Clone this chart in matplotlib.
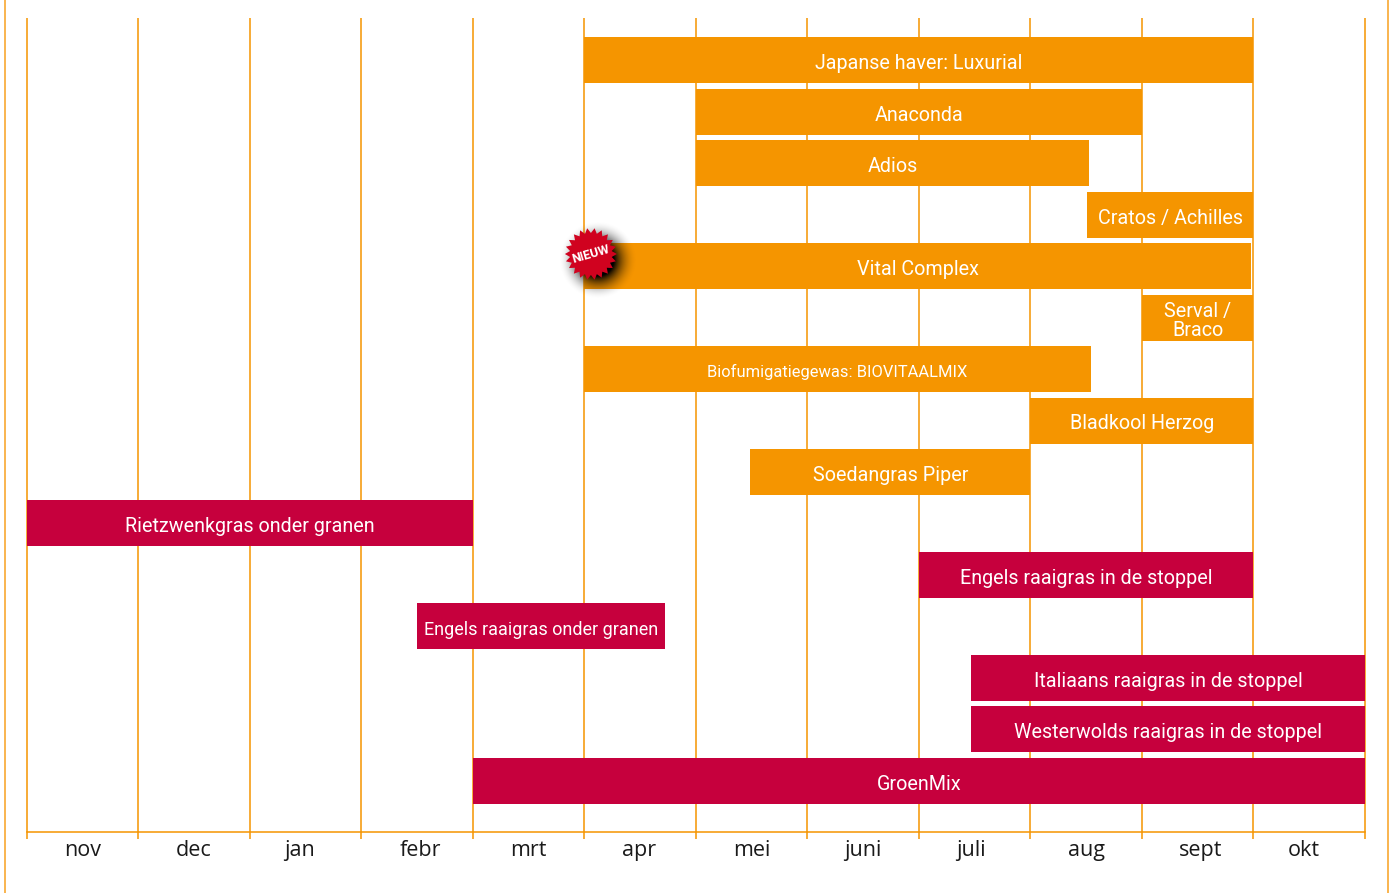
# Groenbemesters zaaikalender

import numpy as np
import matplotlib
matplotlib.use('Agg')
import matplotlib.pyplot as plt
from matplotlib.lines import Line2D
from matplotlib.patches import Polygon

months = ['nov', 'dec', 'jan', 'febr', 'mrt', 'apr', 'mei', 'juni', 'juli', 'aug', 'sept', 'okt']
month_label_pos = [0.50, 1.50, 2.45, 3.53, 4.50, 5.49, 6.50, 7.50, 8.47, 9.50, 10.53, 11.45]

labels = ['Japanse haver: Luxurial', 'Anaconda', 'Adios', 'Cratos / Achilles', 'Vital Complex',
          'Serval /\nBraco', 'Biofumigatiegewas: BIOVITAALMIX', 'Bladkool Herzog', 'Soedangras Piper',
          'Rietzwenkgras onder granen', 'Engels raaigras in de stoppel', 'Engels raaigras onder granen',
          'Italiaans raaigras in de stoppel', 'Westerwolds raaigras in de stoppel', 'GroenMix']
starts = [5, 6, 6, 9.51, 5, 10, 5, 9, 6.49, 0, 8, 3.50, 8.47, 8.47, 4]
ends = [11, 10, 9.53, 11, 10.98, 11, 9.54, 11, 9, 4, 11, 5.72, 12, 12, 12]
groups = ['o', 'o', 'o', 'o', 'o', 'o', 'o', 'o', 'o', 'r', 'r', 'r', 'r', 'r', 'r']
font_sizes = [14.2, 14.2, 14.2, 14.2, 14.2, 14.2, 11.9, 14.2, 14.2, 14.2, 14.2, 13, 14.2, 14.2, 14.2]

ORANGE = '#F59500'
RED = '#C6003D'
W, H = 1392, 893

plt.rcParams['font.family'] = ['Roboto', 'DejaVu Sans']

fig = plt.figure(figsize=(W / 100, H / 100), dpi=100)
ax = fig.add_axes([26.5 / W, 1 - 832 / H, (1365 - 26.5) / W, (832 - 18) / H])
ax.set_xlim(0, 12)
ax.set_ylim(14.997, -0.824)

ax.vlines(range(13), 14.997, -0.824, color=ORANGE, lw=1.1, zorder=1, clip_on=False)
colors = [ORANGE if g == 'o' else RED for g in groups]
rows = np.arange(len(labels))
ax.barh(rows, np.array(ends) - np.array(starts), left=starts, height=0.894, color=colors, zorder=2)

for row, label, s, e, fs in zip(rows, labels, starts, ends, font_sizes):
    ax.text((s + e) / 2, row + 0.065, label, color='white', fontsize=fs, ha='center', va='center',
            linespacing=0.95, zorder=3)

for side in ['left', 'right', 'top']:
    ax.spines[side].set_visible(False)
ax.spines['bottom'].set_color(ORANGE)
ax.spines['bottom'].set_linewidth(1.1)
ax.set_xticks(range(13))
ax.set_xticklabels([])
ax.set_yticks([])
ax.tick_params(axis='x', length=5, width=1.1, color=ORANGE)
for x, m in zip(month_label_pos, months):
    ax.text(x, 15.35, m, family='Open Sans', fontsize=15.5, color='#1a1a1a', ha='center', va='center')

# outer frame, left and right only
for px in [5, 1388]:
    fig.add_artist(Line2D([px / W, px / W], [0, 1], color='#F9B44F', lw=1.4))

# NIEUW badge on the Vital Complex bar, overlay in pixel coordinates
overlay = fig.add_axes([0, 0, 1, 1], zorder=5)
bx, by = ax.transData.transform((5.06, 3.763))
by = H - by

yy, xx = np.mgrid[-48:49, -48:49]
r = np.hypot(xx, yy)
fade = np.clip((40 - r) / 24, 0, 1) ** 2
shadow = np.zeros(r.shape + (4,))
shadow[..., 3] = fade
overlay.imshow(shadow, extent=[bx + 7 - 48, bx + 7 + 48, by + 6 + 48, by + 6 - 48],
               interpolation='bilinear', zorder=1)
overlay.set_xlim(0, W)
overlay.set_ylim(H, 0)
overlay.set_aspect('auto')
overlay.axis('off')

angles = np.linspace(0, 2 * np.pi, 44, endpoint=False)
radii = np.where(np.arange(44) % 2 == 0, 26, 21)
overlay.add_patch(Polygon(np.c_[bx + radii * np.cos(angles), by + radii * np.sin(angles)],
                          closed=True, color='#D0021F', lw=0, zorder=2))
overlay.text(bx, by + 0.5, 'NIEUW', color='white', fontsize=9, fontweight='bold', rotation=16,
             ha='center', va='center', zorder=3)

fig.savefig('out.png', dpi=100)
